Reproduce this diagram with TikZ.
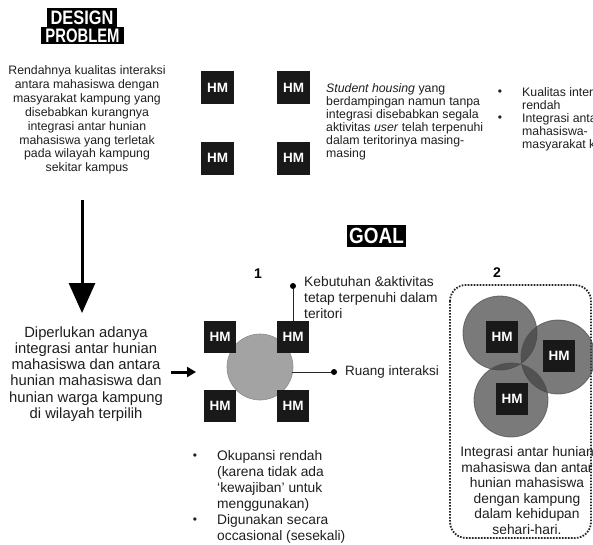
\documentclass[tikz,border=0pt]{standalone}
\usepackage{fontspec}
\setmainfont{Liberation Sans}
\usetikzlibrary{arrows.meta}
\newcommand\setfs[2]{\fontsize{#1}{#2}\selectfont}
\begin{document}
\begin{tikzpicture}[x=1pt,y=-1pt,
  txt/.style={inner sep=0, text=black!88},
  hm/.style={fill=black!90, text=white, font=\bfseries\setfs{13.5}{14}, minimum size=32pt, inner sep=0},
  banner/.style={fill=black, text=white, inner sep=0, font=\bfseries\setfs{19.5}{19.5}},
  dotnode/.style={circle, fill=black, inner sep=0, minimum size=6pt},
  thinline/.style={line width=0.8pt, black!85},
  bigarrow/.style={line width=3pt, -{Triangle[length=30pt,width=26pt]}},
  smallarrow/.style={line width=3pt, -{Triangle[length=9pt,width=10pt]}},
  bubble/.style={circle, fill=black!74, fill opacity=0.7, draw=black!70, draw opacity=0.7, line width=0.8pt, minimum size=74pt, inner sep=0},
  num/.style={inner sep=0, font=\bfseries\setfs{14}{14}}
]
\useasboundingbox (0,0) rectangle (593,544);
\clip (0,0) rectangle (593,544);
\fill[white] (0,0) rectangle (593,544);

% ---- Design problem
\node[banner, minimum width=70pt, minimum height=19pt] (t1) at (82,17.5) {\scalebox{0.84}[1]{DESIGN}};
\node[banner, minimum width=83pt, minimum height=17pt] (t2) at (82.5,35.5) {\scalebox{0.76}[1]{PROBLEM}};

\node[txt, align=center, font=\setfs{12.3}{13.9}] (prob) at (87,120) {Rendahnya kualitas interaksi\\antara mahasiswa dengan\\masyarakat kampung yang\\disebabkan kurangnya\\integrasi antar hunian\\mahasiswa yang terletak\\pada wilayah kampung\\sekitar kampus};

\node[hm, minimum size=33pt] (a1) at (217.5,87.5) {HM};
\node[hm, minimum size=33pt] (a2) at (293.5,87.5) {HM};
\node[hm, minimum size=33pt] (a3) at (217.5,158) {HM};
\node[hm, minimum size=33pt] (a4) at (293.5,158) {HM};

\node[txt, anchor=west, align=left, font=\setfs{12.3}{13}] (stud) at (326,122) {\textit{Student housing} yang\\berdampingan namun tanpa\\integrasi disebabkan segala\\aktivitas \textit{user} telah terpenuhi\\dalam teritorinya masing-\\masing};

\node[txt, anchor=west, align=left, font=\setfs{12.3}{13}] (kual) at (522,119) {Kualitas interaksi\\rendah\\Integrasi antar\\mahasiswa-\\masyarakat kampung};
\node[txt, font=\setfs{12}{12}] (b1) at (500,93) {•};
\node[txt, font=\setfs{12}{12}] (b2) at (500,119) {•};

% ---- Arrow down
\coordinate (arrS) at (82,200);
\node[txt, align=center, font=\setfs{14.8}{16.3}] (need) at (86,374) {Diperlukan adanya\\integrasi antar hunian\\mahasiswa dan antara\\hunian mahasiswa dan\\hunian warga kampung\\di wilayah terpilih};
\coordinate (arrE) at (82,313);
\draw[bigarrow] (arrS) -- (arrE);

% ---- Goal
\node[banner, minimum width=59pt, minimum height=22pt, font=\bfseries\setfs{22}{22}] (goal) at (376.5,236) {\scalebox{0.86}[1]{GOAL}};
\node[num] (n1) at (258,274) {1};
\node[num] (n2) at (497,273) {2};

% ---- Option 1
\node[circle, fill=black!36, draw=black!45, line width=0.6pt, minimum size=66pt, inner sep=0] (ring) at (260,367) {};
\node[hm] (m1) at (220,337) {HM};
\node[hm] (m2) at (293,337) {HM};
\node[hm] (m3) at (220,406) {HM};
\node[hm] (m4) at (293,406) {HM};

\coordinate (sa) at (171,372);
\coordinate (sb) at (196,372);
\draw[smallarrow] (sa) -- (sb);

\node[dotnode] (d1) at (293,286) {};
\draw[thinline] (m2.north) -- (d1);
\node[txt, anchor=west, align=left, font=\setfs{13.8}{15.8}] (keb) at (304,297.5) {Kebutuhan \&aktivitas\\tetap terpenuhi dalam\\teritori};

\coordinate (ringE) at (292,372);
\node[dotnode] (d2) at (334,372) {};
\draw[thinline] (ringE) -- (d2);
\node[txt, anchor=west, font=\setfs{13.5}{15}] (ruang) at (345,372) {Ruang interaksi};

\node[txt, anchor=west, align=left, font=\setfs{13.8}{15.9}] (oku) at (217,497) {Okupansi rendah\\(karena tidak ada\\`kewajiban' untuk\\menggunakan)\\Digunakan secara\\occasional (sesekali)};
\node[txt, font=\setfs{12}{12}] (b3) at (195,457) {•};
\node[txt, font=\setfs{12}{12}] (b4) at (195,521) {•};

% ---- Option 2
\draw[line width=1.8pt, dash pattern=on 1.6pt off 1.4pt, rounded corners=16pt, black!85] (450,285) rectangle (591,538);
\node[bubble] (c1) at (500,333) {};
\node[bubble] (c2) at (558,357) {};
\node[bubble] (c3) at (511,400) {};
\node[hm] (h1) at (502,337) {HM};
\node[hm] (h2) at (559,356) {HM};
\node[hm] (h3) at (512,399) {HM};
\node[txt, align=center, font=\setfs{13.8}{15.5}] (integ) at (527,490.5) {Integrasi antar hunian\\mahasiswa dan antar\\hunian mahasiswa\\dengan kampung\\dalam kehidupan\\sehari-hari.};
\end{tikzpicture}
\end{document}
